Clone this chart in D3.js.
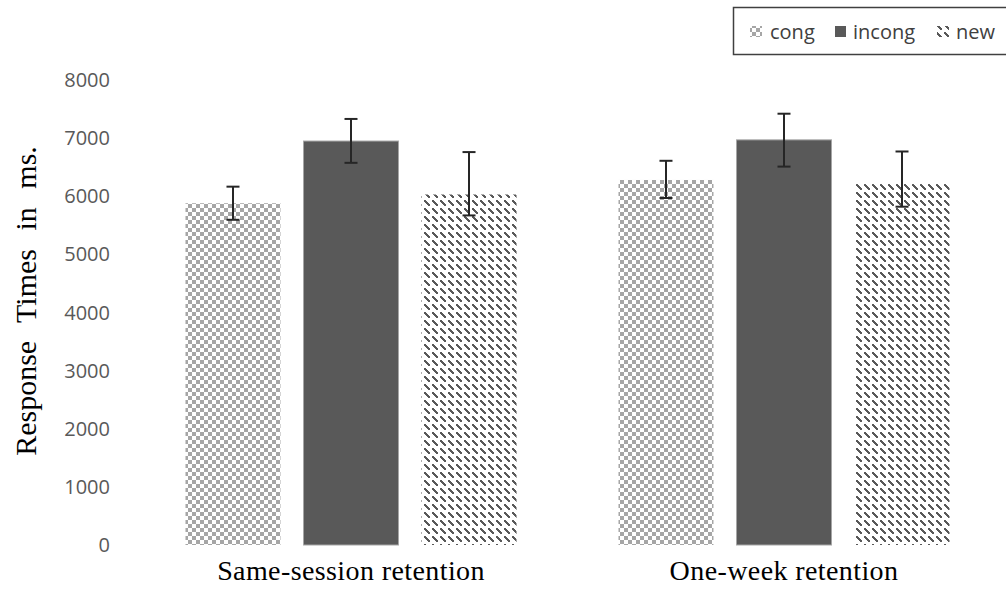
<!DOCTYPE html>
<html><head><meta charset="utf-8">
<script src="https://cdn.jsdelivr.net/npm/d3@7"></script>
<style>body{margin:0;background:#fff}svg{display:block}</style>
</head><body>
<svg id="c" width="1006" height="597"></svg>
<script>
const categories = ["Same-session retention", "One-week retention"];
const seriesNames = ["cong", "incong", "new"];
const congValues = [5880, 6280];
const incongValues = [6950, 6970];
const newValues = [6030, 6210];
const congErrPlus = [285, 330];
const congErrMinus = [285, 310];
const incongErrPlus = [380, 450];
const incongErrMinus = [375, 460];
const newErrPlus = [730, 560];
const newErrMinus = [360, 390];
const yTicks = [0, 1000, 2000, 3000, 4000, 5000, 6000, 7000, 8000];

const values = [congValues, incongValues, newValues];
const errPlus = [congErrPlus, incongErrPlus, newErrPlus];
const errMinus = [congErrMinus, incongErrMinus, newErrMinus];

const svg = d3.select("#c");
const defs = svg.append("defs");
// cong: checker pattern
const p1 = defs.append("pattern").attr("id","pCong").attr("width",8).attr("height",8).attr("patternUnits","userSpaceOnUse");
p1.append("rect").attr("width",8).attr("height",8).attr("fill","#fff");
p1.append("rect").attr("x",0).attr("y",0).attr("width",4).attr("height",4).attr("fill","#a6a6a6");
p1.append("rect").attr("x",4).attr("y",4).attr("width",4).attr("height",4).attr("fill","#a6a6a6");
// new: diagonal dashes
const p3 = defs.append("pattern").attr("id","pNew").attr("width",8).attr("height",8).attr("patternUnits","userSpaceOnUse");
p3.append("rect").attr("width",8).attr("height",8).attr("fill","#fff");
[[0,0],[1,1],[2,2],[3,3],[4,4]].forEach(([x,y])=>p3.append("rect").attr("x",x).attr("y",y).attr("width",2).attr("height",2).attr("fill","#595959"));
const fills = ["url(#pCong)", "#595959", "url(#pNew)"];

const x0 = d3.scaleBand().domain(categories).range([134.5, 1000.5]).paddingInner(0).paddingOuter(0);
const x1 = d3.scaleBand().domain(seriesNames).range([0, x0.bandwidth()]).paddingInner(0.195).paddingOuter(0.432);
const y = d3.scaleLinear().domain([0, 8000]).range([545, 80]);

// y tick labels
svg.append("g").selectAll("text").data(yTicks).join("text")
  .attr("x", 110).attr("y", d => y(d)).attr("dy","0.35em")
  .attr("text-anchor","end").attr("fill","#595959")
  .style("font-family","'Open Sans', sans-serif").style("font-size","20px")
  .text(d => d);

// bars
seriesNames.forEach((s, si) => {
  const g = svg.append("g");
  g.selectAll("rect").data(categories).join("rect")
    .attr("x", c => x0(c) + x1(s))
    .attr("width", x1.bandwidth())
    .attr("y", (c,i) => y(values[si][i]))
    .attr("height", (c,i) => y(0) - y(values[si][i]))
    .attr("fill", fills[si])
    .attr("stroke", si === 1 ? "#a6a6a6" : "none")
    .attr("stroke-width", si === 1 ? 1 : 0);
  const eg = svg.append("g").attr("stroke","#262626").attr("stroke-width",2);
  categories.forEach((c,i) => {
    const cx = x0(c) + x1(s) + x1.bandwidth()/2;
    const hi = y(values[si][i] + errPlus[si][i]);
    const lo = y(values[si][i] - errMinus[si][i]);
    eg.append("line").attr("x1",cx).attr("x2",cx).attr("y1",hi).attr("y2",lo);
    eg.append("line").attr("x1",cx-6.5).attr("x2",cx+6.5).attr("y1",hi).attr("y2",hi);
    eg.append("line").attr("x1",cx-6.5).attr("x2",cx+6.5).attr("y1",lo).attr("y2",lo);
  });
});

// x category labels
svg.append("g").selectAll("text").data(categories).join("text")
  .attr("x", c => x0(c) + x0.bandwidth()/2).attr("y", 580)
  .attr("text-anchor","middle").attr("fill","#000")
  .style("font-family","'Liberation Serif', serif").style("font-size","28px")
  .style("letter-spacing","0.4px")
  .text(c => c);

// y axis title
svg.append("text").attr("transform","translate(36,301) rotate(-90)")
  .attr("text-anchor","middle").attr("fill","#000")
  .style("font-family","'Liberation Serif', serif").style("font-size","30px")
  .style("word-spacing","11px")
  .text("Response Times in ms.");

// legend
const lg = svg.append("g");
lg.append("rect").attr("x",733.5).attr("y",7.5).attr("width",300).attr("height",47)
  .attr("fill","#fff").attr("stroke","#404040").attr("stroke-width",1.5);
const legX = [750, 835, 937];
const legTX = [770, 853, 956];
seriesNames.forEach((s, i) => {
  lg.append("rect").attr("x", legX[i]).attr("y", 26).attr("width", i===1?11:12).attr("height", 11)
    .attr("fill", fills[i]);
  lg.append("text").attr("x", legTX[i]).attr("y", 31.5).attr("dy","0.35em")
    .attr("fill","#404040").style("font-family","'Open Sans', sans-serif").style("font-size","20px")
    .text(s);
});
</script>
</body></html>
